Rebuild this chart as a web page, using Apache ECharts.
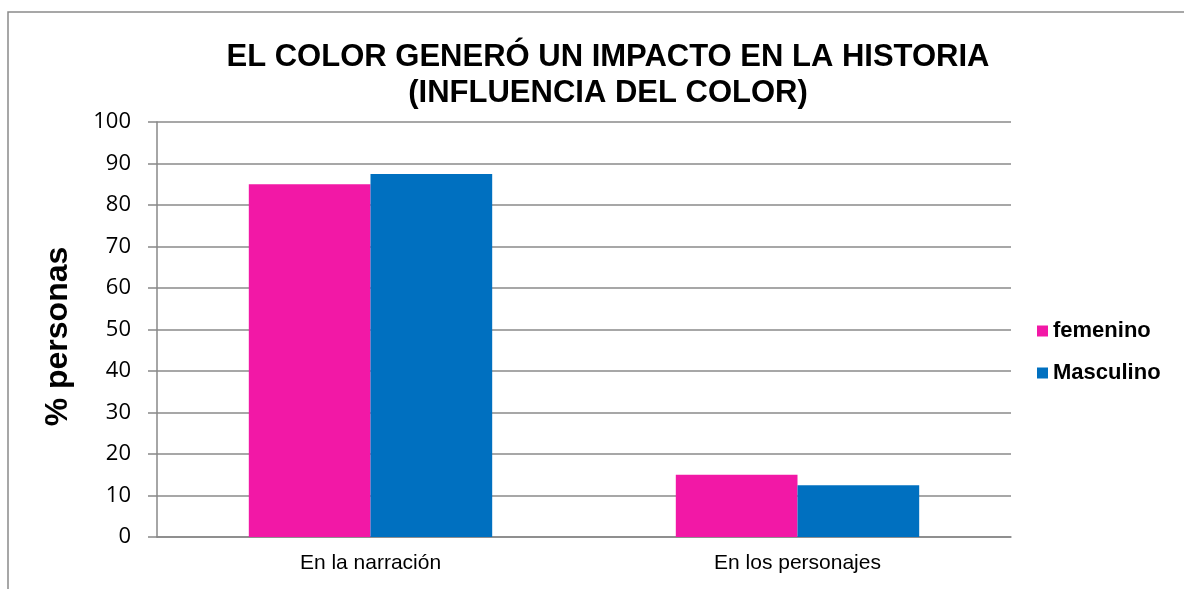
<!DOCTYPE html>
<html>
<head>
<meta charset="utf-8">
<script src="https://cdn.jsdelivr.net/npm/echarts@6/dist/echarts.min.js"></script>
<style>
  html, body { margin: 0; padding: 0; background: #fff; }
  #chart { width: 1184px; height: 589px; }
</style>
</head>
<body>
<div id="chart"></div>
<script>
// datos
const categorias = ['En la narración', 'En los personajes'];
const femenino = [85, 15];
const masculino = [87.5, 12.5];
const ticksY = [0, 100, 10]; // min, max, intervalo

const myChart = echarts.init(document.getElementById('chart'));
myChart.setOption({
  animation: false,
  textStyle: { fontFamily: 'Liberation Sans, Arial, sans-serif' },
  title: {
    text: 'EL COLOR GENERÓ UN IMPACTO EN LA HISTORIA\n(INFLUENCIA DEL COLOR)',
    left: 603,
    top: 34,
    textAlign: 'center',
    textStyle: {
      fontSize: 31,
      fontWeight: 'bold',
      color: '#000',
      lineHeight: 36
    }
  },
  legend: {
    orient: 'vertical',
    left: 1032,
    top: 315,
    itemWidth: 11,
    itemHeight: 11,
    itemGap: 20,
    icon: 'rect',
    textStyle: { fontSize: 22, fontWeight: 'bold', color: '#000' },
    data: ['femenino', 'Masculino']
  },
  grid: {
    left: 157,
    right: 173,
    top: 122,
    bottom: 52
  },
  xAxis: {
    type: 'category',
    data: categorias,
    axisLine: { lineStyle: { color: '#888', width: 1.5 } },
    axisTick: { show: false },
    axisLabel: { fontSize: 21, color: '#000', margin: 16 }
  },
  yAxis: {
    type: 'value',
    min: ticksY[0],
    max: ticksY[1],
    interval: ticksY[2],
    name: '% personas',
    nameLocation: 'middle',
    nameGap: 83,
    nameTextStyle: { fontSize: 32, fontWeight: 'bold', color: '#000', padding: [0, 0, 0, -14] },
    axisLine: { show: true, lineStyle: { color: '#888', width: 1.5 } },
    axisTick: { show: true, length: 9, lineStyle: { color: '#888', width: 1.5 } },
    axisLabel: { fontSize: 22, color: '#000', margin: 26, fontFamily: 'Open Sans, sans-serif' },
    splitLine: { lineStyle: { color: '#8a8a8a', width: 1.5 } }
  },
  graphic: [{
    type: 'rect',
    shape: { x: 8, y: 12, width: 1300, height: 700 },
    style: { fill: 'none', stroke: '#8a8a8a', lineWidth: 1.5 },
    silent: true
  }],
  series: [
    {
      name: 'femenino',
      type: 'bar',
      barGap: '0%',
      barCategoryGap: '43%',
      itemStyle: { color: '#F218A6' },
      data: femenino
    },
    {
      name: 'Masculino',
      type: 'bar',
      itemStyle: { color: '#0070C0' },
      data: masculino
    }
  ]
});
</script>
</body>
</html>
